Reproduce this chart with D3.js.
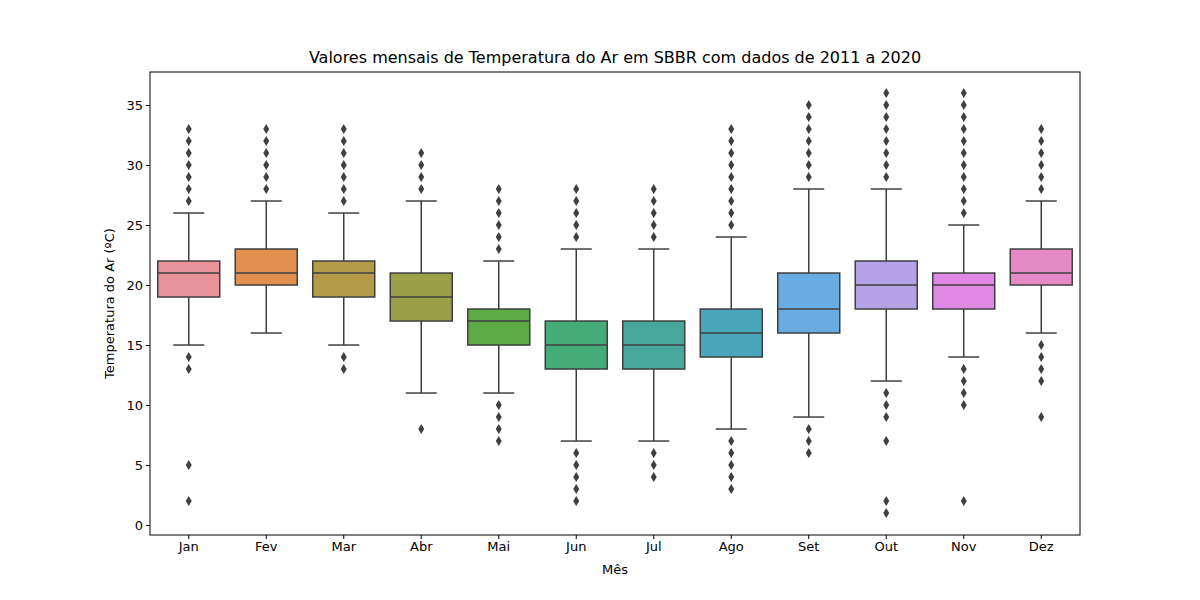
<!DOCTYPE html>
<html><head><meta charset="utf-8">
<script src="https://cdn.jsdelivr.net/npm/d3@7.9.0/dist/d3.min.js"></script>
<style>body{margin:0;background:#fff;font-family:"DejaVu Sans",sans-serif;}</style>
</head><body><svg id="chart" width="1200" height="600"></svg>
<script>
// month labels and box stats
const months = ['Jan','Fev','Mar','Abr','Mai','Jun','Jul','Ago','Set','Out','Nov','Dez'];
const q1 =     [19,20,19,17,15,13,13,14,16,18,18,20];
const median = [21,21,21,19,17,15,15,16,18,20,20,21];
const q3 =     [22,23,22,21,18,17,17,18,21,22,21,23];
const whiskLo = [15,16,15,11,11,7,7,8,9,12,14,16];
const whiskHi = [26,27,26,27,22,23,23,24,28,28,25,27];
const outliers = [
  [27,28,29,30,31,32,33,13,14,5,2],
  [28,29,30,31,32,33],
  [27,28,29,30,31,32,33,13,14],
  [28,29,30,31,8],
  [23,24,25,26,27,28,7,8,9,10],
  [24,25,26,27,28,2,3,4,5,6],
  [24,25,26,27,28,4,5,6],
  [25,26,27,28,29,30,31,32,33,3,4,5,6,7],
  [29,30,31,32,33,34,35,6,7,8],
  [29,30,31,32,33,34,35,36,11,10,9,7,2,1],
  [26,27,28,29,30,31,32,33,34,35,36,13,12,11,10,2],
  [28,29,30,31,32,33,15,14,13,12,9]
];
const colors = ['#e8929a','#e0904f','#b59a48','#9aa048','#5cab47','#45ab79','#48a79b','#4aa6ba','#68ace2','#b3a2e6','#e089e4','#e68ac6'];
const yTicks = [0,5,10,15,20,25,30,35];

const svg = d3.select('#chart');
const mLeft = 150, mRight = 1080, mTop = 72, mBottom = 535;
const ink = '#3f3f3f';

const x = d3.scaleBand().domain(months).range([mLeft, mRight]);
const y = d3.scaleLinear().domain([-0.83, 37.75]).range([mBottom, mTop]);
const bw = x.bandwidth() * 0.8;

months.forEach((m, i) => {
  const cx = x(m) + x.bandwidth() / 2;
  const g = svg.append('g');
  // whiskers
  g.append('line').attr('x1', cx).attr('x2', cx).attr('y1', y(q3[i])).attr('y2', y(whiskHi[i]))
    .attr('stroke', ink).attr('stroke-width', 1.5);
  g.append('line').attr('x1', cx).attr('x2', cx).attr('y1', y(q1[i])).attr('y2', y(whiskLo[i]))
    .attr('stroke', ink).attr('stroke-width', 1.5);
  [whiskHi[i], whiskLo[i]].forEach(v => {
    g.append('line').attr('x1', cx - bw / 4).attr('x2', cx + bw / 4).attr('y1', y(v)).attr('y2', y(v))
      .attr('stroke', ink).attr('stroke-width', 1.5);
  });
  g.append('rect').attr('x', cx - bw / 2).attr('width', bw)
    .attr('y', y(q3[i])).attr('height', y(q1[i]) - y(q3[i]))
    .attr('fill', colors[i]).attr('stroke', ink).attr('stroke-width', 1.5);
  g.append('line').attr('x1', cx - bw / 2).attr('x2', cx + bw / 2).attr('y1', y(median[i])).attr('y2', y(median[i]))
    .attr('stroke', ink).attr('stroke-width', 1.5);
  g.selectAll('path').data(outliers[i]).enter().append('path')
    .attr('d', d3.symbol(d3.symbolDiamond2, 40))
    .attr('transform', d => `translate(${cx},${y(d)}) scale(0.75,1.25)`)
    .attr('fill', ink);
});

// axes
const xAxis = svg.append('g').attr('transform', `translate(0,${mBottom})`)
  .call(d3.axisBottom(x).tickSize(4).tickSizeOuter(0));
const yAxis = svg.append('g').attr('transform', `translate(${mLeft},0)`)
  .call(d3.axisLeft(y).tickValues(yTicks).tickSize(4).tickSizeOuter(0));
[xAxis, yAxis].forEach(a => {
  a.select('.domain').remove();
  a.selectAll('text').attr('font-size', 13).attr('font-family', 'DejaVu Sans').attr('fill', '#000');
  a.selectAll('line').attr('stroke', '#000');
});
svg.append('rect').attr('x', mLeft).attr('y', mTop).attr('width', mRight - mLeft).attr('height', mBottom - mTop)
  .attr('fill', 'none').attr('stroke', '#000').attr('stroke-width', 1);

svg.append('text').attr('x', (mLeft + mRight) / 2).attr('y', 63).attr('text-anchor', 'middle')
  .attr('font-size', 16).text('Valores mensais de Temperatura do Ar em SBBR com dados de 2011 a 2020');
svg.append('text').attr('x', (mLeft + mRight) / 2).attr('y', 574).attr('text-anchor', 'middle')
  .attr('font-size', 13).text('Mês');
svg.append('text').attr('transform', `translate(114,${(mTop + mBottom) / 2}) rotate(-90)`)
  .attr('text-anchor', 'middle').attr('font-size', 13).text('Temperatura do Ar (ºC)');
</script></body></html>
